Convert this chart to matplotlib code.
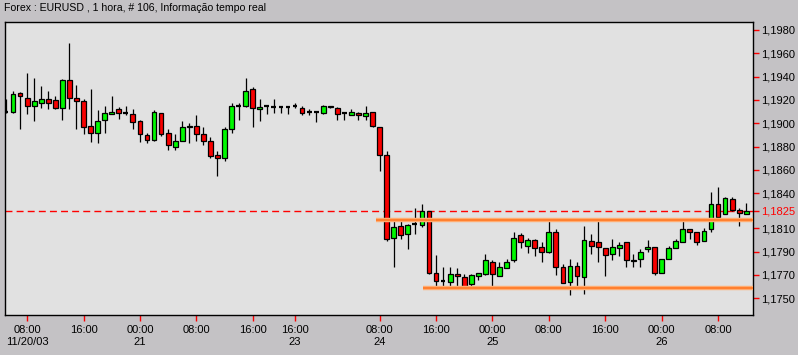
import matplotlib
matplotlib.use('Agg')
import matplotlib.pyplot as plt
import numpy as np

# Hourly EURUSD candles (index 0..105)
opens = [1.1910, 1.1910, 1.1926, 1.1922, 1.1915, 1.1917, 1.1921, 1.1920, 1.1913, 1.1937,
         1.1922, 1.1919, 1.1898, 1.1892, 1.1903, 1.1908, 1.1912, 1.1909, 1.1908, 1.1902,
         1.1890, 1.1886, 1.1909, 1.1892, 1.1880, 1.1885, 1.1897, 1.1898, 1.1891, 1.1885,
         1.1873, 1.1870, 1.1895, 1.1915, 1.1915, 1.1929, 1.1912, 1.1915, 1.1914, 1.1914,
         1.1914, 1.1915, 1.1913, 1.1910, 1.1910, 1.1909, 1.1915, 1.1913, 1.1909, 1.1907,
         1.1909, 1.1906, 1.1910, 1.1897, 1.1873, 1.1802, 1.1812, 1.1805, 1.1814, 1.1813,
         1.1825, 1.1772, 1.1765, 1.1764, 1.1771, 1.1768, 1.1762, 1.1769, 1.1771, 1.1781,
         1.1769, 1.1776, 1.1783, 1.1804, 1.1795, 1.1800, 1.1794, 1.1790, 1.1807, 1.1777,
         1.1764, 1.1778, 1.1768, 1.1799, 1.1798, 1.1793, 1.1788, 1.1793, 1.1798, 1.1782,
         1.1784, 1.1792, 1.1794, 1.1772, 1.1784, 1.1793, 1.1798, 1.1809, 1.1807, 1.1799,
         1.1809, 1.1831, 1.1822, 1.1835, 1.1826, 1.1822]
highs = [1.1921, 1.1928, 1.1927, 1.1943, 1.1939, 1.1932, 1.1928, 1.1923, 1.1938, 1.1969,
         1.1933, 1.1921, 1.1929, 1.1911, 1.1915, 1.1923, 1.1914, 1.1915, 1.1912, 1.1903,
         1.1892, 1.1911, 1.1909, 1.1895, 1.1891, 1.1902, 1.1900, 1.1907, 1.1897, 1.1888,
         1.1876, 1.1897, 1.1917, 1.1917, 1.1939, 1.1931, 1.1921, 1.1916, 1.1921, 1.1915,
         1.1914, 1.1917, 1.1915, 1.1912, 1.1910, 1.1916, 1.1915, 1.1914, 1.1910, 1.1912,
         1.1910, 1.1915, 1.1910, 1.1897, 1.1876, 1.1816, 1.1816, 1.1814, 1.1827, 1.1831,
         1.1825, 1.1787, 1.1777, 1.1777, 1.1776, 1.1771, 1.1771, 1.1772, 1.1788, 1.1783,
         1.1781, 1.1784, 1.1807, 1.1806, 1.1802, 1.1801, 1.1798, 1.1816, 1.1809, 1.1779,
         1.1784, 1.1781, 1.1812, 1.1805, 1.1816, 1.1793, 1.1801, 1.1798, 1.1798, 1.1788,
         1.1792, 1.1800, 1.1794, 1.1784, 1.1795, 1.1801, 1.1816, 1.1809, 1.1807, 1.1810,
         1.1841, 1.1845, 1.1837, 1.1837, 1.1827, 1.1832]
lows = [1.1909, 1.1909, 1.1895, 1.1908, 1.1902, 1.1913, 1.1912, 1.1912, 1.1903, 1.1912,
        1.1895, 1.1891, 1.1884, 1.1883, 1.1892, 1.1908, 1.1904, 1.1907, 1.1895, 1.1884,
        1.1883, 1.1885, 1.1889, 1.1877, 1.1877, 1.1885, 1.1883, 1.1885, 1.1881, 1.1870,
        1.1855, 1.1868, 1.1892, 1.1903, 1.1914, 1.1897, 1.1902, 1.1908, 1.1909, 1.1909,
        1.1908, 1.1913, 1.1907, 1.1907, 1.1901, 1.1908, 1.1913, 1.1903, 1.1903, 1.1907,
        1.1903, 1.1903, 1.1897, 1.1859, 1.1799, 1.1777, 1.1801, 1.1792, 1.1805, 1.1811,
        1.1771, 1.1759, 1.1759, 1.1759, 1.1760, 1.1759, 1.1759, 1.1766, 1.1770, 1.1759,
        1.1769, 1.1776, 1.1781, 1.1793, 1.1789, 1.1786, 1.1781, 1.1789, 1.1770, 1.1763,
        1.1753, 1.1759, 1.1754, 1.1788, 1.1781, 1.1769, 1.1783, 1.1786, 1.1777, 1.1777,
        1.1777, 1.1790, 1.1770, 1.1772, 1.1784, 1.1793, 1.1798, 1.1801, 1.1796, 1.1799,
        1.1807, 1.1820, 1.1822, 1.1825, 1.1812, 1.1822]
closes = [1.1910, 1.1925, 1.1923, 1.1915, 1.1919, 1.1921, 1.1917, 1.1913, 1.1937, 1.1922,
          1.1919, 1.1897, 1.1892, 1.1902, 1.1909, 1.1910, 1.1909, 1.1909, 1.1901, 1.1891,
          1.1886, 1.1910, 1.1891, 1.1881, 1.1885, 1.1897, 1.1898, 1.1891, 1.1885, 1.1872,
          1.1870, 1.1895, 1.1915, 1.1915, 1.1928, 1.1913, 1.1914, 1.1915, 1.1914, 1.1914,
          1.1914, 1.1915, 1.1909, 1.1910, 1.1910, 1.1915, 1.1914, 1.1908, 1.1909, 1.1910,
          1.1907, 1.1909, 1.1898, 1.1873, 1.1801, 1.1811, 1.1804, 1.1813, 1.1814, 1.1825,
          1.1772, 1.1765, 1.1765, 1.1771, 1.1769, 1.1759, 1.1770, 1.1772, 1.1783, 1.1771,
          1.1777, 1.1781, 1.1802, 1.1798, 1.1800, 1.1793, 1.1790, 1.1807, 1.1777, 1.1763,
          1.1778, 1.1769, 1.1800, 1.1795, 1.1794, 1.1787, 1.1794, 1.1796, 1.1783, 1.1783,
          1.1790, 1.1794, 1.1772, 1.1784, 1.1793, 1.1799, 1.1809, 1.1807, 1.1798, 1.1808,
          1.1831, 1.1820, 1.1836, 1.1826, 1.1823, 1.1825]

# time axis labels at bar indices
tick_idx = [3, 11, 19, 27, 35, 41, 53, 61, 69, 77, 85, 93, 101]
tick_lbl = ['08:00\n11/20/03', '16:00', '00:00\n21', '08:00', '16:00', '16:00\n23',
            '08:00\n24', '16:00', '00:00\n25', '08:00', '16:00', '00:00\n26', '08:00']

# price scale labels
price_ticks = [1.1750, 1.1770, 1.1790, 1.1810, 1.1825, 1.1840, 1.1860, 1.1880,
               1.1900, 1.1920, 1.1940, 1.1960, 1.1980]
last_price = 1.1825

# support / resistance lines (start bar, price)
levels_start = [52.5, 59.2]
levels_price = [1.1817, 1.1759]

plt.rcParams['font.family'] = ['Liberation Sans', 'DejaVu Sans']
plt.rcParams['font.size'] = 8

fig = plt.figure(figsize=(7.98, 3.55), dpi=100, facecolor='#C4C2C5')
ax = fig.add_axes([5 / 798, 40 / 355, 748 / 798, 293 / 355])
ax.set_facecolor('#E1E1E1')

x = np.arange(len(opens))
o = np.array(opens)
h = np.array(highs)
l = np.array(lows)
c = np.array(closes)

# wicks
ax.vlines(x, l, h, color='black', linewidth=0.9, zorder=3)

# bodies
up = c > o
down = c < o
flat = c == o
w = 0.68
ax.bar(x[up], (c - o)[up], bottom=o[up], width=w, color='#00F800',
       edgecolor='black', linewidth=0.9, zorder=4)
ax.bar(x[down], (o - c)[down], bottom=c[down], width=w, color='#F80000',
       edgecolor='black', linewidth=0.9, zorder=4)
ax.hlines(o[flat], x[flat] - w / 2, x[flat] + w / 2, color='black',
          linewidth=1.6, zorder=4)

# last price line
ax.axhline(last_price, color='#FF0000', linewidth=1.0, linestyle=(0, (5, 3)), zorder=2)

# support / resistance
for s, p in zip(levels_start, levels_price):
    ax.hlines(p, s, 106, color='#FFB27A', linewidth=3.2, zorder=5)
    ax.hlines(p, s, 106, color='#FF8030', linewidth=1.6, zorder=5)

ax.set_xlim(-0.14, 105.96)
ax.set_ylim(1.17357, 1.19868)

ax.yaxis.tick_right()
ax.set_yticks(price_ticks)
ax.set_yticklabels([f'{p:.4f}'.replace('.', ',') for p in price_ticks])
ax.set_xticks(tick_idx)
ax.set_xticklabels(tick_lbl, linespacing=1.3)
ax.tick_params(axis='both', colors='#FF0000', labelcolor='black', length=4,
               width=1, direction='out', labelsize=8)
ax.tick_params(axis='y', pad=2)
ax.tick_params(axis='x', pad=3)
for t, p in zip(ax.get_yticklabels(), price_ticks):
    if abs(p - last_price) < 1e-9:
        t.set_color('#FF0000')

for sp in ax.spines.values():
    sp.set_color('black')
    sp.set_linewidth(1.0)

fig.text(4 / 798, 1 - 8 / 355, 'Forex : EURUSD , 1 hora, # 106, Informação tempo real',
         ha='left', va='center', fontsize=7.6)

fig.savefig('out.png', dpi=100, facecolor=fig.get_facecolor())
plt.close(fig)
